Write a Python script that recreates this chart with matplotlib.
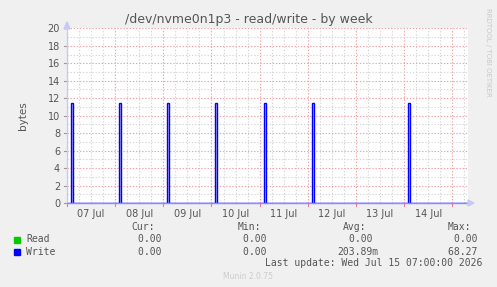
import matplotlib
matplotlib.use("Agg")
import matplotlib.pyplot as plt
import matplotlib.patches as mpatches
import numpy as np

# data (x in days since 07 Jul 00:00)
day_labels = ["07 Jul", "08 Jul", "09 Jul", "10 Jul", "11 Jul", "12 Jul", "13 Jul", "14 Jul"]
spike_days = [0, 1, 2, 3, 4, 5, 7]
spike_values = [11.45, 11.45, 11.45, 11.45, 11.45, 11.45, 11.45]
spike_start_hour = 2.0
spike_len_hour = 1.0
x_end = 8.327

legend_names = ["Read", "Write"]
legend_colors = ["#00cc00", "#0000ff"]
cur_vals = ["0.00 ", "0.00 "]
min_vals = ["0.00 ", "0.00 "]
avg_vals = ["0.00 ", "203.89m"]
max_vals = ["0.00 ", "68.27 "]

W, H = 497, 287
fig = plt.figure(figsize=(W / 100, H / 100), dpi=100, facecolor="#f0f0f0")

def fx(x):
    return x / W

def fy(y):
    return 1 - y / H

L, R, T, B = 67, 468, 28.3, 203
ax = fig.add_axes([fx(L), fy(B), fx(R) - fx(L), fy(T) - fy(B)])
ax.set_facecolor("white")
ax.set_xlim(0, x_end)
ax.set_ylim(0, 20)

# grid
red = "#f2a0a0"
gray = "#d6d6d6"
for d in np.arange(0.25, x_end, 0.25):
    if abs(d - round(d)) < 1e-6:
        continue
    ax.axvline(d, color=gray, lw=0.8, dashes=(1.2, 1.6), zorder=1)
for d in range(1, 9):
    ax.axvline(d, color=red, lw=0.8, dashes=(1.2, 1.6), zorder=1)
for v in range(1, 21, 2):
    ax.axhline(v, color=gray, lw=0.8, dashes=(1.2, 1.6), zorder=1)
for v in range(2, 21, 2):
    ax.axhline(v, color=red, lw=0.8, dashes=(1.2, 1.6), zorder=1)

# write series
xs, ys = [0.0], [0.0]
for d, v in zip(spike_days, spike_values):
    s = d + spike_start_hour / 24
    e = s + spike_len_hour / 24
    xs += [s, s, e, e]
    ys += [0, v, v, 0]
xs.append(x_end)
ys.append(0)
ax.fill_between(xs, ys, color="#8080ff", alpha=0.5, lw=0, zorder=2)
ax.plot(xs, ys, color="#0000ff", lw=1.0, zorder=3, solid_joinstyle="miter")

for s in ax.spines.values():
    s.set_visible(False)
ax.plot([0, 0], [0, 20.6], color="#c8c8f0", lw=1, clip_on=False, zorder=4)
ax.plot([0, x_end + 0.02], [0, 0], color="#8888ff", lw=1, clip_on=False, zorder=4)
fig.patches.append(mpatches.Polygon([[fx(64), fy(29)], [fx(70), fy(29)], [fx(67), fy(22)]],
                                    closed=True, color="#c8c8f0", transform=fig.transFigure))
fig.patches.append(mpatches.Polygon([[fx(468), fy(200)], [fx(468), fy(206)], [fx(474), fy(203)]],
                                    closed=True, color="#c8c8f0", transform=fig.transFigure))

ax.set_yticks(range(0, 21, 2))
ax.set_yticklabels([str(v) for v in range(0, 21, 2)])
ax.set_xticks([d + 0.5 for d in range(8)])
ax.set_xticklabels(day_labels)
ax.tick_params(axis="both", length=0, labelsize=7, labelcolor="#555555")
ax.tick_params(axis="x", pad=4)
ax.tick_params(axis="y", pad=5)
for d in range(0, 9):
    ax.plot([d, d], [0, -0.35], color="#f08080", lw=0.8, clip_on=False)
for v in range(0, 21, 2):
    ax.plot([-0.06, 0], [v, v], color="#999999", lw=0.8, clip_on=False)

ax.set_ylabel("bytes", fontsize=7.5, color="#555555", labelpad=14)

fig.text(0.5, fy(19), "/dev/nvme0n1p3 - read/write - by week", ha="center", va="center",
         fontsize=9, color="#555555")
fig.text(fx(488), fy(52), "RRDTOOL / TOBI OETIKER", rotation=270, ha="center", va="center",
         fontsize=5, color="#c8c8c8")

mono = dict(family="DejaVu Sans Mono", fontsize=7, color="#555555", va="center")
fig.text(fx(155), fy(227.5), "Cur:", ha="right", **mono)
fig.text(fx(261), fy(227.5), "Min:", ha="right", **mono)
fig.text(fx(366), fy(227.5), "Avg:", ha="right", **mono)
fig.text(fx(471), fy(227.5), "Max:", ha="right", **mono)
rows_y = [239.5, 251.7]
for i, name in enumerate(legend_names):
    y = rows_y[i]
    fig.patches.append(mpatches.Rectangle((fx(14), fy(y + 3)), fx(5.5), 6 / H,
                                          color=legend_colors[i], transform=fig.transFigure))
    fig.text(fx(26), fy(y), name, ha="left", **mono)
    fig.text(fx(167), fy(y), cur_vals[i], ha="right", **mono)
    fig.text(fx(272), fy(y), min_vals[i], ha="right", **mono)
    fig.text(fx(378.5), fy(y), avg_vals[i], ha="right", **mono)
    fig.text(fx(483), fy(y), max_vals[i], ha="right", **mono)
fig.text(fx(482.5), fy(263.5), "Last update: Wed Jul 15 07:00:00 2026", ha="right", **mono)
fig.text(fx(248), fy(276.5), "Munin 2.0.75", ha="center", va="center", fontsize=5.5,
         color="#cccccc")

fig.savefig("out.png", dpi=100, facecolor=fig.get_facecolor())
